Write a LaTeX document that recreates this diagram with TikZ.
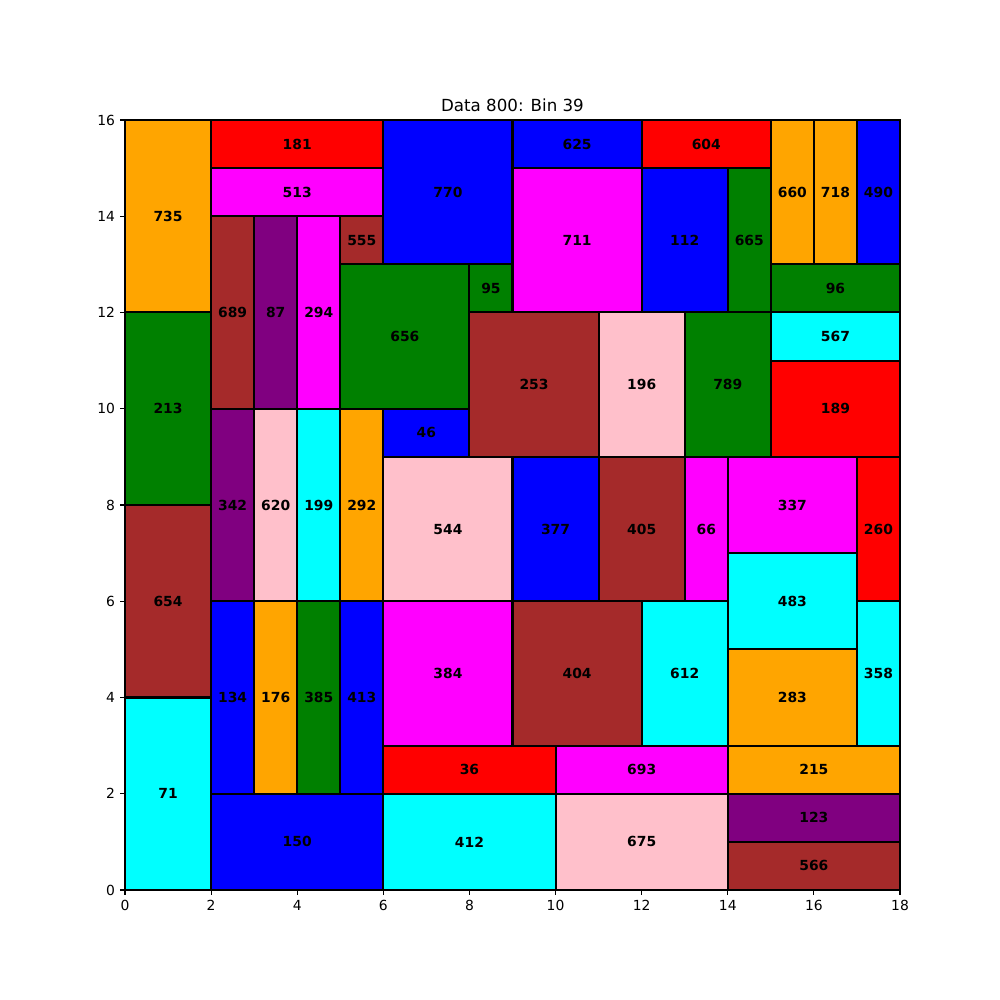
\documentclass[tikz,border=0pt]{standalone}
\usepackage{fontspec}
\setmainfont{DejaVu Sans}
\usepackage{xcolor}
\usepackage{tikz}
\usetikzlibrary{positioning}
\definecolor{mplorange}{HTML}{FFA500}
\definecolor{mplgreen}{HTML}{008000}
\definecolor{mplbrown}{HTML}{A52A2A}
\definecolor{mplcyan}{HTML}{00FFFF}
\definecolor{mplred}{HTML}{FF0000}
\definecolor{mplmagenta}{HTML}{FF00FF}
\definecolor{mplblue}{HTML}{0000FF}
\definecolor{mplpurple}{HTML}{800080}
\definecolor{mplpink}{HTML}{FFC0CB}

\begin{document}
\begin{tikzpicture}[
  x=31pt, y=34.65pt,
  every node/.style={font=\fontsize{10}{12}\selectfont},
  item/.style={draw=black, line width=1.45pt, line join=miter},
  lbl/.style={font=\fontsize{10}{12}\selectfont\bfseries, inner sep=0pt},
  tick/.style={line width=0.8pt}]
  \useasboundingbox (-90pt,-79.2pt) rectangle (630pt,640.8pt);
  % packed items: x/y/w/h/colour/id
  \foreach \x/\y/\w/\h/\c/\l in {
    0/12/2/4/mplorange/735, 0/8/2/4/mplgreen/213, 0/4/2/4/mplbrown/654,
    0/0/2/4/mplcyan/71, 2/15/4/1/mplred/181, 2/14/4/1/mplmagenta/513,
    2/10/1/4/mplbrown/689, 3/10/1/4/mplpurple/87, 4/10/1/4/mplmagenta/294,
    5/13/1/1/mplbrown/555, 5/10/3/3/mplgreen/656, 6/13/3/3/mplblue/770,
    8/12/1/1/mplgreen/95, 9/15/3/1/mplblue/625, 12/15/3/1/mplred/604,
    9/12/3/3/mplmagenta/711, 12/12/2/3/mplblue/112, 14/12/1/3/mplgreen/665,
    15/13/1/3/mplorange/660, 16/13/1/3/mplorange/718, 17/13/1/3/mplblue/490,
    15/12/3/1/mplgreen/96, 15/11/3/1/mplcyan/567, 15/9/3/2/mplred/189,
    8/9/3/3/mplbrown/253, 11/9/2/3/mplpink/196, 13/9/2/3/mplgreen/789,
    6/9/2/1/mplblue/46, 2/6/1/4/mplpurple/342, 3/6/1/4/mplpink/620,
    4/6/1/4/mplcyan/199, 5/6/1/4/mplorange/292, 6/6/3/3/mplpink/544,
    9/6/2/3/mplblue/377, 11/6/2/3/mplbrown/405, 13/6/1/3/mplmagenta/66,
    14/7/3/2/mplmagenta/337, 17/6/1/3/mplred/260, 14/5/3/2/mplcyan/483,
    14/3/3/2/mplorange/283, 17/3/1/3/mplcyan/358, 2/2/1/4/mplblue/134,
    3/2/1/4/mplorange/176, 4/2/1/4/mplgreen/385, 5/2/1/4/mplblue/413,
    6/3/3/3/mplmagenta/384, 9/3/3/3/mplbrown/404, 12/3/2/3/mplcyan/612,
    6/2/4/1/mplred/36, 10/2/4/1/mplmagenta/693, 14/2/4/1/mplorange/215,
    2/0/4/2/mplblue/150, 6/0/4/2/mplcyan/412, 10/0/4/2/mplpink/675,
    14/1/4/1/mplpurple/123, 14/0/4/1/mplbrown/566}
  {
    \draw[item, fill=\c] (\x,\y) rectangle ++(\w,\h);
    \node[lbl] (b\l) at ({\x+\w/2},{\y+\h/2}) {\l};
  }
  % axes frame
  \draw[tick] (0,0) rectangle (18,16);
  \foreach \t in {0,2,...,18}
  {
    \draw[tick] (\t,0) -- ++(0,-3.5pt);
    \node[anchor=north, inner sep=0pt] (xt\t) at ([yshift=-7pt]\t,0) {\t};
  }
  \foreach \t in {0,2,...,16}
  {
    \draw[tick] (0,\t) -- ++(-3.5pt,0);
    \node[anchor=east, inner sep=0pt] (yt\t) at ([xshift=-7pt]0,\t) {\t};
  }
  \node[anchor=base, inner sep=0pt, font=\fontsize{12}{14}\selectfont] (title)
    at ([yshift=6pt]9,16) {Data 800: Bin 39};
\end{tikzpicture}
\end{document}
